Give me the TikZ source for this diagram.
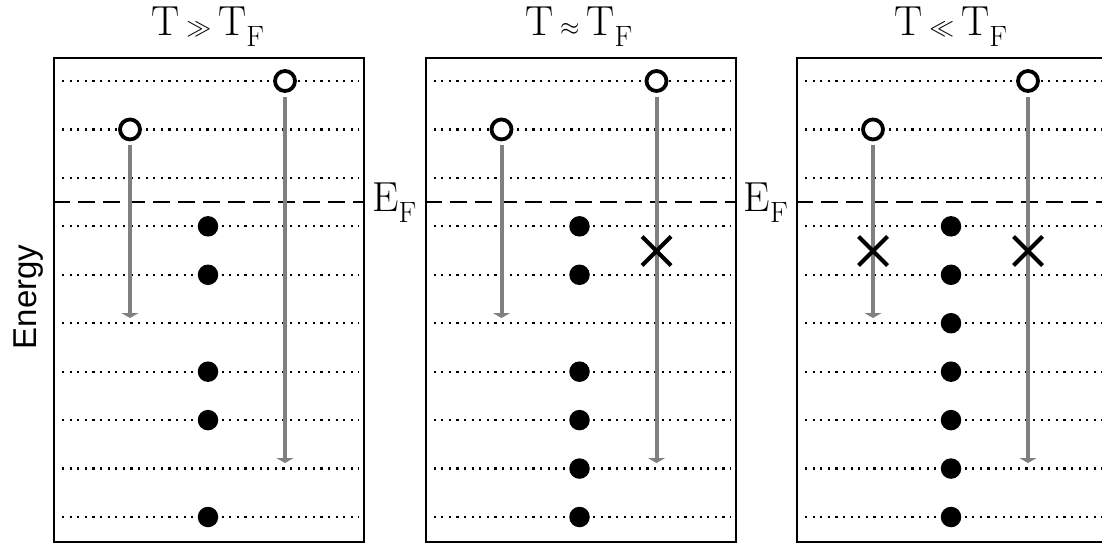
\documentclass[tikz,border=0pt]{standalone}
\usepackage{fontspec}
\newfontfamily\axisfont{Liberation Sans}
\usetikzlibrary{arrows.meta,shapes.misc}
\definecolor{jumpgray}{RGB}{128,128,128}
\begin{document}
\begin{tikzpicture}[x=1pt,y=-1pt,
  frame/.style={draw=black,line width=2pt},
  levelline/.style={draw=black,line width=2.2pt,dash pattern=on 2.2pt off 5.4pt},
  fermiline/.style={draw=black,line width=2.2pt,dash pattern=on 17pt off 8pt},
  hole/.style={circle,draw=black,fill=white,line width=3.8pt,minimum size=20pt,inner sep=0pt},
  electron/.style={circle,fill=black,minimum size=20.5pt,inner sep=0pt},
  blocked/.style={cross out,draw=black,line width=4pt,minimum size=25pt,inner sep=0pt},
  jump/.style={draw=jumpgray,line width=4pt,shorten <=4pt,-{Triangle[width=17pt,length=5pt]}},
  titletext/.style={anchor=base,inner sep=0pt,font=\fontsize{42}{50}\selectfont},
  fermitext/.style={anchor=base west,inner sep=0pt,font=\fontsize{42}{50}\selectfont},
]
\useasboundingbox (0,0) rectangle (1102,546);
\clip (0,0) rectangle (1102,546);

\foreach \b/\L in {1/53,2/424.5,3/796}{
  % dotted levels
  \foreach \k in {1,...,10}{
    \draw[levelline] (\L+9,{81+(\k-1)*48.444}) -- (\L+306,{81+(\k-1)*48.444});
  }
  % Fermi level
  \draw[fermiline] (\L,202) -- (\L+310,202);
  % frame
  \node[frame,inner sep=0pt,minimum width=310pt,minimum height=484pt,anchor=north west] (box\b) at (\L,57) {};
}

% titles
\node[titletext] (t1) at (208,35) {$\mathrm{T}\gg\mathrm{T}_\mathrm{F}$};
\node[titletext] (t2) at (579,35) {$\mathrm{T}\approx\mathrm{T}_\mathrm{F}$};
\node[titletext] (t3) at (951,35) {$\mathrm{T}\ll\mathrm{T}_\mathrm{F}$};

% E_F labels
\node[fermitext] (ef1) at (372,211) {$\mathrm{E}_\mathrm{F}$};
\node[fermitext] (ef2) at (743.5,211) {$\mathrm{E}_\mathrm{F}$};

% axis label
\node[rotate=90,anchor=base,inner sep=0pt,font=\axisfont\fontsize{33}{40}\selectfont] (energy) at (36,297) {Energy};

% arrow end points
\foreach \b/\L in {1/53,2/424.5,3/796}{
  \coordinate (s\b) at (\L+77,318);
  \coordinate (l\b) at (\L+232,463);
}

% holes and arrows
\foreach \b/\L in {1/53,2/424.5,3/796}{
  \node[hole] (hs\b) at (\L+77,129.44) {};
  \node[hole] (hl\b) at (\L+232,81) {};
  \draw[jump] (hs\b) -- (s\b);
  \draw[jump] (hl\b) -- (l\b);
}

% electrons, box 1
\foreach \k in {4,5,7,8,10}{
  \node[electron] (ea\k) at (208,{81+(\k-1)*48.444}) {};
}
% electrons, box 2
\foreach \k in {4,5,7,8,9,10}{
  \node[electron] (eb\k) at (579.5,{81+(\k-1)*48.444}) {};
}
% electrons, box 3
\foreach \k in {4,5,6,7,8,9,10}{
  \node[electron] (ec\k) at (951,{81+(\k-1)*48.444}) {};
}

% blocked transitions
\node[blocked] (x2) at (656.5,251) {};
\node[blocked] (x3a) at (873,251) {};
\node[blocked] (x3b) at (1028,251) {};
\end{tikzpicture}
\end{document}
